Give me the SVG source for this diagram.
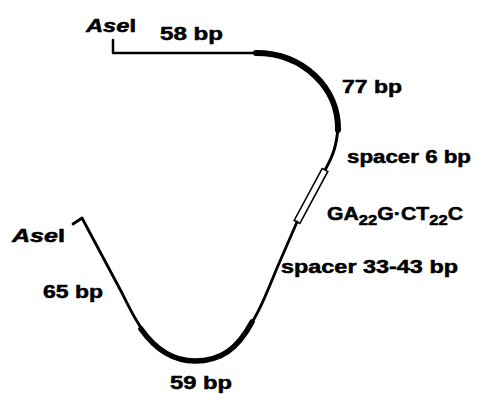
<svg xmlns="http://www.w3.org/2000/svg" width="477" height="395" viewBox="0 0 477 395">
<style>
.lbl{font-family:"Liberation Sans",Arial,sans-serif;font-weight:bold;font-size:18px;fill:#000;stroke:#000;stroke-width:0.5}
.ase{font-family:"Liberation Sans",Arial,sans-serif;font-weight:bold;font-size:19px;fill:#000;stroke:#000;stroke-width:0.5}
.ln{fill:none;stroke:#000;stroke-linecap:round;stroke-linejoin:round}
</style>
<rect width="477" height="395" fill="#fff"/>
<g id="dna">
<path class="ln" stroke-width="2.5" d="M113,40 V53 H258"/>
<path class="ln" stroke-width="6" d="M256,53 C303,53 339,88 338,130"/>
<path class="ln" stroke-width="3" d="M338,126 C337,145 333,156 325,170"/>
<g transform="translate(325,170) rotate(118.3)">
<rect x="0" y="-3.2" width="59" height="6.4" fill="#fff" stroke="#000" stroke-width="1.6"/>
</g>
<path class="ln" stroke-width="2.8" d="M297,222 L277,268 C258,315 240,361 195,361 C155,361 138,325 122,293 L82,218 L73,224"/>
<path class="ln" stroke-width="5.5" d="M252,322 C237,350 220,361 195,361 C170,361 153,346 141,329"/>
</g>
<g id="labels">
<text class="ase" x="86" y="32" textLength="50" lengthAdjust="spacingAndGlyphs"><tspan font-style="italic">Ase</tspan>I</text>
<text class="lbl" x="160" y="40" textLength="63" lengthAdjust="spacingAndGlyphs">58 bp</text>
<text class="lbl" x="342" y="93" textLength="60" lengthAdjust="spacingAndGlyphs">77 bp</text>
<text class="lbl" x="347" y="163" textLength="124" lengthAdjust="spacingAndGlyphs">spacer 6 bp</text>
<text class="lbl" x="327" y="220" textLength="136" lengthAdjust="spacingAndGlyphs">GA<tspan font-size="14" dy="5">22</tspan><tspan dy="-5">G·CT</tspan><tspan font-size="14" dy="5">22</tspan><tspan dy="-5">C</tspan></text>
<text class="lbl" x="281" y="273" textLength="177" lengthAdjust="spacingAndGlyphs">spacer 33-43 bp</text>
<text class="ase" x="12" y="242" textLength="53" lengthAdjust="spacingAndGlyphs"><tspan font-style="italic">Ase</tspan>I</text>
<text class="lbl" x="43" y="298" textLength="60" lengthAdjust="spacingAndGlyphs">65 bp</text>
<text class="lbl" x="170" y="389" textLength="62" lengthAdjust="spacingAndGlyphs">59 bp</text>
</g>
</svg>
